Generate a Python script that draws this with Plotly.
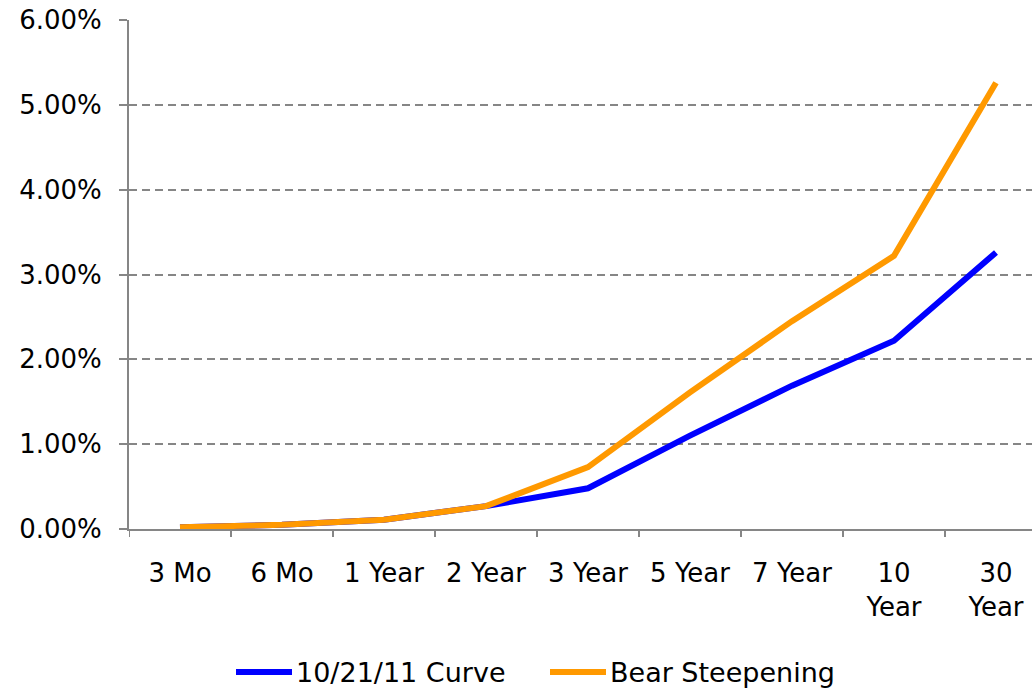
import plotly.graph_objects as go

# Treasury yield curve maturities and yields (percent)
maturities = ["3 Mo", "6 Mo", "1 Year", "2 Year", "3 Year", "5 Year", "7 Year", "10<br>Year", "30<br>Year"]
curve_102111 = [0.02, 0.05, 0.11, 0.27, 0.48, 1.10, 1.69, 2.22, 3.26]
bear_steepening = [0.02, 0.05, 0.11, 0.27, 0.73, 1.61, 2.45, 3.22, 5.26]
y_ticks = [0, 1, 2, 3, 4, 5, 6]
y_tick_labels = ["0.00%", "1.00%", "2.00%", "3.00%", "4.00%", "5.00%", "6.00%"]

series = [
    ("10/21/11 Curve", curve_102111, "#0000FF"),
    ("Bear Steepening", bear_steepening, "#FF9900"),
]

font_family = "DejaVu Sans, Verdana, sans-serif"
axis_gray = "#868686"
W, H = 1032, 688
M_L, M_R, M_T, M_B = 129, 0, 20, 159
plot_w = W - M_L - M_R
plot_h = H - M_T - M_B


def px_to_paper_x(px):
    return (px - M_L) / plot_w


def px_to_paper_y(py):
    return (H - M_B - py) / plot_h


fig = go.Figure()
for name, values, color in series:
    fig.add_trace(go.Scatter(
        x=list(range(len(maturities))), y=values, name=name,
        mode="lines", line=dict(color=color, width=6),
    ))

fig.update_layout(
    width=W, height=H,
    margin=dict(l=M_L, r=M_R, t=M_T, b=M_B, autoexpand=False),
    paper_bgcolor="white", plot_bgcolor="white",
    font=dict(family=font_family, size=26, color="black"),
    showlegend=False,
    xaxis=dict(
        range=[-0.5, 8.353],
        tickmode="array", tickvals=list(range(len(maturities))), ticktext=maturities,
        showgrid=False, zeroline=False,
        showline=True, linecolor=axis_gray, linewidth=2,
        ticks="", ticklabelstandoff=20,
    ),
    yaxis=dict(
        range=[0, 6],
        tickmode="array", tickvals=y_ticks, ticktext=y_tick_labels,
        showgrid=True, gridcolor=axis_gray, gridwidth=2, griddash="8px,5px",
        zeroline=False,
        showline=True, linecolor=axis_gray, linewidth=2,
        ticks="outside", ticklen=8, tickcolor=axis_gray, tickwidth=2,
        ticklabelstandoff=12,
    ),
)

# Category divider ticks on the x axis, between maturities
for i in range(len(maturities)):
    fig.add_shape(
        type="line", xref="x", yref="paper",
        x0=i - 0.5, x1=i - 0.5, y0=0, y1=-8 / plot_h,
        line=dict(color=axis_gray, width=2),
    )

# Legend row below the chart: line sample followed by the series name
legend_y = px_to_paper_y(672)
legend_starts = [236, 550]
for (name, _, color), x0 in zip(series, legend_starts):
    fig.add_shape(
        type="line", xref="paper", yref="paper",
        x0=px_to_paper_x(x0), x1=px_to_paper_x(x0 + 56), y0=legend_y, y1=legend_y,
        line=dict(color=color, width=6),
    )
    fig.add_annotation(
        xref="paper", yref="paper", x=px_to_paper_x(x0 + 58), y=legend_y,
        xanchor="left", yanchor="middle", showarrow=False,
        text=name, font=dict(size=27, color="black"),
    )

fig.write_html("out.html")
